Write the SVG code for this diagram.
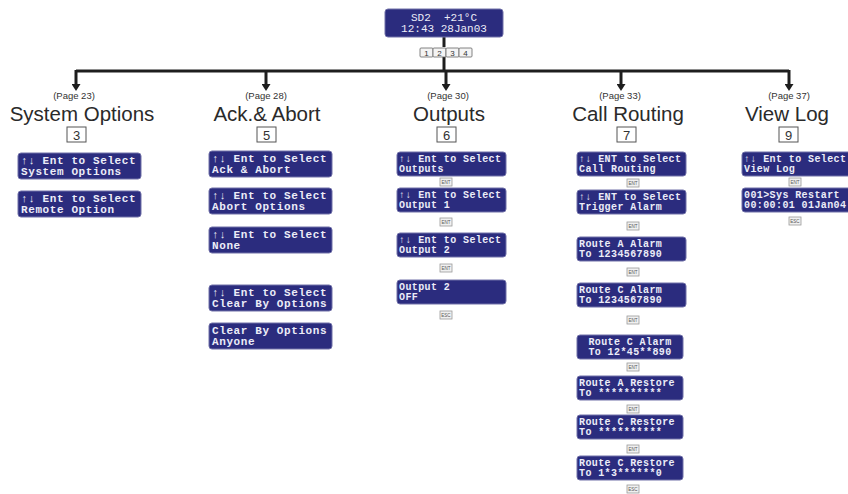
<svg xmlns="http://www.w3.org/2000/svg" width="848" height="494" viewBox="0 0 848 494">
<defs>
<marker id="ah" viewBox="0 0 10 10" refX="0" refY="5" markerWidth="7" markerHeight="9" markerUnits="userSpaceOnUse" orient="auto" preserveAspectRatio="none">
<path d="M0,0 L10,5 L0,10 z" fill="#1e1e1e"/>
</marker>
</defs>
<style>
.lcd{fill:#2b2c7e;stroke:#7070a8;stroke-width:1}
.lt{font-family:"Liberation Mono","DejaVu Sans Mono",monospace;font-size:11px;font-weight:bold;letter-spacing:0.6px;fill:#ececf8;white-space:pre}
.ls{font-family:"Liberation Mono","DejaVu Sans Mono",monospace;font-size:10px;font-weight:bold;letter-spacing:0.4px;fill:#ececf8;white-space:pre}
.tp{font-family:"Liberation Mono","DejaVu Sans Mono",monospace;font-size:11px;fill:#ececf8;white-space:pre;text-anchor:middle}
.conn{stroke:#1e1e1e;stroke-width:3;fill:none}
.hd{font-family:"Liberation Sans",Arial,sans-serif;font-size:20.5px;fill:#2a2a2a;text-anchor:middle}
.pg{font-family:"Liberation Sans",Arial,sans-serif;font-size:9.5px;fill:#333;text-anchor:middle}
.key{fill:#fff;stroke:#555;stroke-width:1}
.kt{font-family:"Liberation Sans",Arial,sans-serif;font-size:13px;fill:#333;text-anchor:middle}
.sk{fill:#f0f0f0;stroke:#999;stroke-width:0.8}
.st{font-family:"Liberation Sans",Arial,sans-serif;font-size:4.5px;fill:#555;text-anchor:middle}
.nk{fill:#f4f4f4;stroke:#666;stroke-width:0.8}
.nt{font-family:"Liberation Sans",Arial,sans-serif;font-size:8px;fill:#333;text-anchor:middle}
</style>
<rect width="848" height="494" fill="#ffffff"/>

<g id="connectors">
<line class="conn" x1="444" y1="37" x2="444" y2="47"/>
<line class="conn" x1="444" y1="57" x2="444" y2="71"/>
<path class="conn" d="M76,71 H789"/>
<line class="conn" x1="76" y1="70" x2="76" y2="84" marker-end="url(#ah)"/>
<line class="conn" x1="266" y1="71" x2="266" y2="84" marker-end="url(#ah)"/>
<line class="conn" x1="446" y1="71" x2="446" y2="84" marker-end="url(#ah)"/>
<line class="conn" x1="621" y1="71" x2="621" y2="84" marker-end="url(#ah)"/>
<line class="conn" x1="789" y1="70" x2="789" y2="84" marker-end="url(#ah)"/>
</g>

<g id="main-display">
<rect class="lcd" x="385" y="9" width="118" height="28" rx="3"/>
<text class="tp" x="444" y="20.5">SD2  +21°C</text>
<text class="tp" x="444" y="32">12:43 28Jan03</text>
</g>
<g id="keys-1234">
<rect class="nk" x="420" y="48" width="13" height="9" rx="1"/><text class="nt" x="426.5" y="55.5">1</text>
<rect class="nk" x="433" y="48" width="13" height="9" rx="1"/><text class="nt" x="439.5" y="55.5">2</text>
<rect class="nk" x="446" y="48" width="13" height="9" rx="1"/><text class="nt" x="452.5" y="55.5">3</text>
<rect class="nk" x="459" y="48" width="13" height="9" rx="1"/><text class="nt" x="465.5" y="55.5">4</text>
</g>

<!-- Column 1: System Options -->
<g id="system-options">
<text class="pg" x="74" y="98.5">(Page 23)</text>
<text class="hd" x="82" y="121">System Options</text>
<rect class="key" x="67" y="127" width="19" height="15"/><text class="kt" x="76.5" y="139.5">3</text>
</g>
<g id="so-1"><rect class="lcd" x="18" y="153" width="123" height="26" rx="3"/>
<text class="lt" x="21" y="164">↑↓ Ent to Select</text><text class="lt" x="21" y="175">System Options</text></g>
<g id="so-2"><rect class="lcd" x="18" y="191" width="123" height="26" rx="3"/>
<text class="lt" x="21" y="202">↑↓ Ent to Select</text><text class="lt" x="21" y="213">Remote Option</text></g>

<!-- Column 2: Ack & Abort -->
<g id="ack-abort">
<text class="pg" x="266" y="98.5">(Page 28)</text>
<text class="hd" x="267" y="121">Ack.&amp; Abort</text>
<rect class="key" x="257" y="127" width="19" height="15"/><text class="kt" x="266.5" y="139.5">5</text>
</g>
<g id="aa-1"><rect class="lcd" x="209" y="151" width="123" height="26" rx="3"/>
<text class="lt" x="212" y="162">↑↓ Ent to Select</text><text class="lt" x="212" y="173">Ack &amp; Abort</text></g>
<g id="aa-2"><rect class="lcd" x="209" y="188" width="123" height="26" rx="3"/>
<text class="lt" x="212" y="199">↑↓ Ent to Select</text><text class="lt" x="212" y="210">Abort Options</text></g>
<g id="aa-3"><rect class="lcd" x="209" y="227" width="123" height="26" rx="3"/>
<text class="lt" x="212" y="238">↑↓ Ent to Select</text><text class="lt" x="212" y="249">None</text></g>
<g id="aa-4"><rect class="lcd" x="209" y="285" width="123" height="26" rx="3"/>
<text class="lt" x="212" y="296">↑↓ Ent to Select</text><text class="lt" x="212" y="307">Clear By Options</text></g>
<g id="aa-5"><rect class="lcd" x="209" y="323" width="123" height="26" rx="3"/>
<text class="lt" x="212" y="334">Clear By Options</text><text class="lt" x="212" y="345">Anyone</text></g>

<!-- Column 3: Outputs -->
<g id="outputs">
<text class="pg" x="448" y="98.5">(Page 30)</text>
<text class="hd" x="449" y="121">Outputs</text>
<rect class="key" x="437" y="127" width="19" height="15"/><text class="kt" x="446.5" y="139.5">6</text>
</g>
<g id="op-1"><rect class="lcd" x="397" y="152" width="109" height="24" rx="3"/>
<text class="ls" x="399" y="162">↑↓ Ent to Select</text><text class="ls" x="399" y="172">Outputs</text></g>
<g id="op-k1"><rect class="sk" x="440" y="178" width="12" height="8"/><text class="st" x="446" y="183.6">ENT</text></g>
<g id="op-2"><rect class="lcd" x="397" y="188" width="109" height="24" rx="3"/>
<text class="ls" x="399" y="198">↑↓ Ent to Select</text><text class="ls" x="399" y="208">Output 1</text></g>
<g id="op-k2"><rect class="sk" x="440" y="218" width="12" height="8"/><text class="st" x="446" y="223.6">ENT</text></g>
<g id="op-3"><rect class="lcd" x="397" y="233" width="109" height="24" rx="3"/>
<text class="ls" x="399" y="243">↑↓ Ent to Select</text><text class="ls" x="399" y="253">Output 2</text></g>
<g id="op-k3"><rect class="sk" x="440" y="264" width="12" height="8"/><text class="st" x="446" y="269.6">ENT</text></g>
<g id="op-4"><rect class="lcd" x="397" y="280" width="109" height="24" rx="3"/>
<text class="ls" x="399" y="290">Output 2</text><text class="ls" x="399" y="300">OFF</text></g>
<g id="op-k4"><rect class="sk" x="440" y="311" width="12" height="8"/><text class="st" x="446" y="316.6">ESC</text></g>

<!-- Column 4: Call Routing -->
<g id="call-routing">
<text class="pg" x="620" y="98.5">(Page 33)</text>
<text class="hd" x="628" y="121">Call Routing</text>
<rect class="key" x="617" y="127" width="19" height="15"/><text class="kt" x="626.5" y="139.5">7</text>
</g>
<g id="cr-1"><rect class="lcd" x="577" y="152" width="109" height="24" rx="3"/>
<text class="ls" x="579" y="162">↑↓ ENT to Select</text><text class="ls" x="579" y="172">Call Routing</text></g>
<g id="cr-k1"><rect class="sk" x="627" y="179" width="12" height="8"/><text class="st" x="633" y="184.6">ENT</text></g>
<g id="cr-2"><rect class="lcd" x="577" y="190" width="109" height="24" rx="3"/>
<text class="ls" x="579" y="200">↑↓ ENT to Select</text><text class="ls" x="579" y="210">Trigger Alarm</text></g>
<g id="cr-k2"><rect class="sk" x="627" y="222" width="12" height="8"/><text class="st" x="633" y="227.6">ENT</text></g>
<g id="cr-3"><rect class="lcd" x="577" y="237" width="109" height="24" rx="3"/>
<text class="ls" x="579" y="247">Route A Alarm</text><text class="ls" x="579" y="257">To 1234567890</text></g>
<g id="cr-k3"><rect class="sk" x="627" y="268" width="12" height="8"/><text class="st" x="633" y="273.6">ENT</text></g>
<g id="cr-4"><rect class="lcd" x="577" y="283" width="109" height="24" rx="3"/>
<text class="ls" x="579" y="293">Route C Alarm</text><text class="ls" x="579" y="303">To 1234567890</text></g>
<g id="cr-k4"><rect class="sk" x="627" y="316" width="12" height="8"/><text class="st" x="633" y="321.6">ENT</text></g>
<g id="cr-5"><rect class="lcd" x="577" y="335" width="106" height="24" rx="3"/>
<text class="ls" x="630" y="345" text-anchor="middle">Route C Alarm</text><text class="ls" x="630" y="355" text-anchor="middle">To 12*45**890</text></g>
<g id="cr-k5"><rect class="sk" x="627" y="363" width="12" height="8"/><text class="st" x="633" y="368.6">ENT</text></g>
<g id="cr-6"><rect class="lcd" x="577" y="376" width="106" height="24" rx="3"/>
<text class="ls" x="579" y="386">Route A Restore</text><text class="ls" x="579" y="396">To **********</text></g>
<g id="cr-k6"><rect class="sk" x="627" y="405" width="12" height="8"/><text class="st" x="633" y="410.6">ENT</text></g>
<g id="cr-7"><rect class="lcd" x="577" y="415" width="106" height="24" rx="3"/>
<text class="ls" x="579" y="425">Route C Restore</text><text class="ls" x="579" y="435">To **********</text></g>
<g id="cr-k7"><rect class="sk" x="627" y="445" width="12" height="8"/><text class="st" x="633" y="450.6">ENT</text></g>
<g id="cr-8"><rect class="lcd" x="577" y="456" width="106" height="24" rx="3"/>
<text class="ls" x="579" y="466">Route C Restore</text><text class="ls" x="579" y="476">To 1*3******0</text></g>
<g id="cr-k8"><rect class="sk" x="627" y="485" width="12" height="8"/><text class="st" x="633" y="490.6">ESC</text></g>

<!-- Column 5: View Log -->
<g id="view-log">
<text class="pg" x="789" y="98.5">(Page 37)</text>
<text class="hd" x="787" y="121">View Log</text>
<rect class="key" x="779" y="127" width="19" height="15"/><text class="kt" x="788.5" y="139.5">9</text>
</g>
<g id="vl-1"><rect class="lcd" x="742" y="152" width="110" height="24" rx="3"/>
<text class="ls" x="744" y="162">↑↓ Ent to Select</text><text class="ls" x="744" y="172">View Log</text></g>
<g id="vl-k1"><rect class="sk" x="789" y="178" width="12" height="8"/><text class="st" x="795" y="183.6">ENT</text></g>
<g id="vl-2"><rect class="lcd" x="742" y="188" width="110" height="24" rx="3"/>
<text class="ls" x="744" y="198">001>Sys Restart</text><text class="ls" x="744" y="208">00:00:01 01Jan04</text></g>
<g id="vl-k2"><rect class="sk" x="789" y="217" width="12" height="8"/><text class="st" x="795" y="222.6">ESC</text></g>
</svg>
